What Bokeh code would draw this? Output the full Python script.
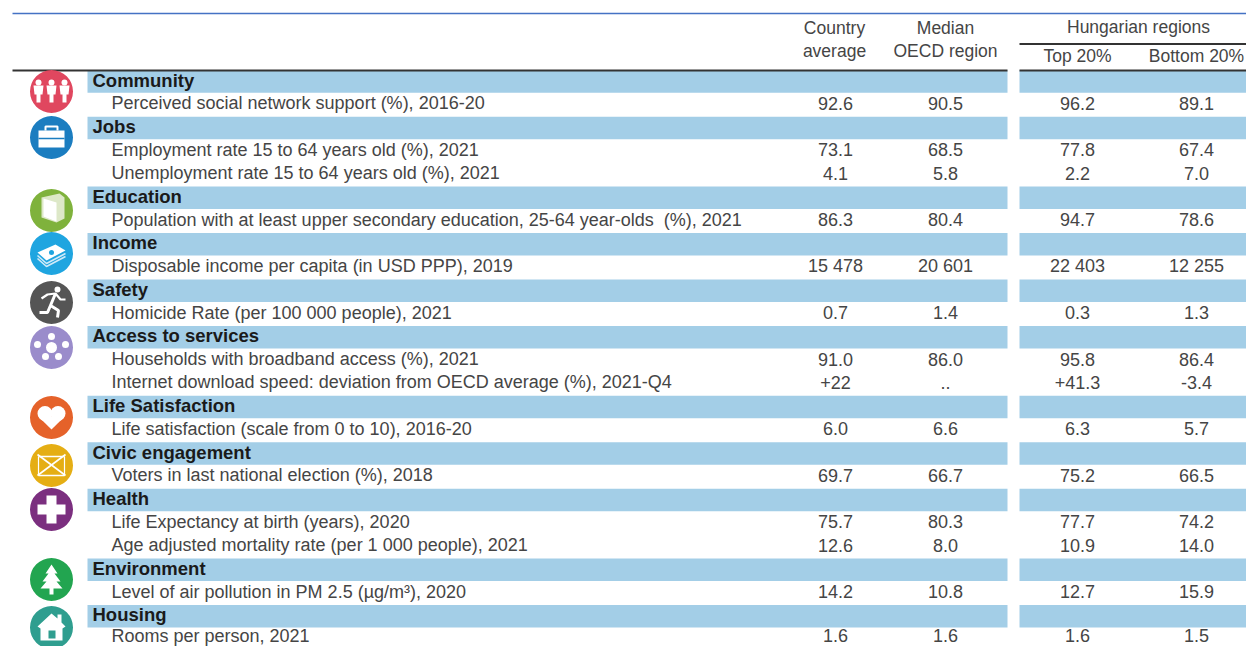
from bokeh.plotting import figure
from bokeh.models import Range1d
from bokeh.core.properties import value
from bokeh.embed import file_html
from bokeh.resources import INLINE

FONT = value("Liberation Sans")

row_kind = ["h","d","h","d","d","h","d","h","d","h","d","h","d","d","h","d","h","d","h","d","d","h","d","h","d"]
row_labels = [
    "Community", "Perceived social network support (%), 2016-20",
    "Jobs", "Employment rate 15 to 64 years old (%), 2021", "Unemployment rate 15 to 64 years old (%), 2021",
    "Education", "Population with at least upper secondary education, 25-64 year-olds\u00a0 (%), 2021",
    "Income", "Disposable income per capita (in USD PPP), 2019",
    "Safety", "Homicide Rate (per 100 000 people), 2021",
    "Access to services", "Households with broadband access (%), 2021",
    "Internet download speed: deviation from OECD average (%), 2021-Q4",
    "Life Satisfaction", "Life satisfaction (scale from 0 to 10), 2016-20",
    "Civic engagement", "Voters in last national election (%), 2018",
    "Health", "Life Expectancy at birth (years), 2020", "Age adjusted mortality rate (per 1 000 people), 2021",
    "Environment", "Level of air pollution in PM 2.5 (µg/m³), 2020",
    "Housing", "Rooms per person, 2021",
]
country_avg = ["","92.6","","73.1","4.1","","86.3","","15 478","","0.7","","91.0","+22","","6.0","","69.7","","75.7","12.6","","14.2","","1.6"]
median_oecd = ["","90.5","","68.5","5.8","","80.4","","20 601","","1.4","","86.0","..","","6.6","","66.7","","80.3","8.0","","10.8","","1.6"]
top_20 = ["","96.2","","77.8","2.2","","94.7","","22 403","","0.3","","95.8","+41.3","","6.3","","75.2","","77.7","10.9","","12.7","","1.6"]
bottom_20 = ["","89.1","","67.4","7.0","","78.6","","12 255","","1.3","","86.4","-3.4","","5.7","","66.5","","74.2","14.0","","15.9","","1.5"]

icon_colors = ["#E0475F","#1B7DC0","#7FB23C","#1FA5E0","#555555","#9A8CCB","#E5622A","#E5AE14","#7B2F7F","#22A550","#2F9E8F"]
icon_y = [91,137,210,253,302,347,417,465,509,579,627]

Y0, DY = 80.5, 23.25
LAST = len(row_kind) - 1
def ry(i): return Y0 + DY * i
def ty(i):
    # text rows; the last one is nudged up so that it stays inside the page
    return ry(i) - 1 - (2.5 if i == LAST else 0)

p = figure(width=1246, height=646, output_backend="svg", toolbar_location=None,
           x_range=Range1d(0,1246), y_range=Range1d(646,0), min_border=0,
           outline_line_color=None, background_fill_color="white",
           styles={"position":"absolute","left":"0","top":"0"})
p.xaxis.visible = False
p.yaxis.visible = False
p.grid.visible = False

BAND = "#A3CEE7"
hrows = [ry(i)+0.5 for i,k in enumerate(row_kind) if k=="h"]
for x0,x1 in [(87,1007),(1019,1246)]:
    p.quad(left=x0,right=x1,top=[y-11.2 for y in hrows],bottom=[y+11.2 for y in hrows],fill_color=BAND,line_color=None)

# rules
p.line([12,1246],[13,13],line_color="#4472C4",line_width=1.5)
p.line([12,1007],[70,70],line_color="#333333",line_width=2.2)
p.line([1019,1246],[70,70],line_color="#333333",line_width=2.2)
p.line([1019,1246],[43.5,43.5],line_color="#333333",line_width=2)

def txt(x,y,s,align="left",color="#454545",style="normal",size="18px"):
    p.text(x=x,y=y,text=s,text_align=align,text_baseline="middle",text_color=color,
           text_font=FONT,text_font_size=size,text_font_style=style)

for i,(k,l) in enumerate(zip(row_kind,row_labels)):
    if k=="h":
        txt([92],[ty(i)],[l],color="#1a1a1a",style="bold",size="18.5px")
    else:
        txt([111],[ty(i)],[l])

for x,col in [(835,country_avg),(945,median_oecd),(1077,top_20),(1196,bottom_20)]:
    xs=[x for v in col if v]; ys=[ty(i) for i,v in enumerate(col) if v]; ss=[v for v in col if v]
    txt(xs,ys,ss,align="center")

for x,y,s in [(834,27,"Country"),(834,50,"average"),(945,27,"Median"),(945,50,"OECD region"),
              (1138,26,"Hungarian regions"),(1077,55,"Top 20%"),(1196,55,"Bottom 20%")]:
    txt([x],[y],[s],align="center",size="17.5px")

# icon discs
CX = 51
p.scatter(x=[CX]*len(icon_y),y=icon_y,size=43,marker="circle",fill_color=icon_colors,line_color=None)

W="white"
def poly(cy,pts,color=W):
    p.patch([CX+a for a,b in pts],[cy+b for a,b in pts],fill_color=color,line_color=None)
def dot(cx,cy,s,color=W):
    p.scatter([cx],[cy],size=s,marker="circle",fill_color=color,line_color=None)
def seg(cy,pts,w=2,color=W):
    p.line([CX+a for a,b in pts],[cy+b for a,b in pts],line_color=color,line_width=w)

# community: three people
cy=icon_y[0]
for dx in (-13,0,13):
    dot(CX+dx,cy-9,6)
    poly(cy,[(dx-5,-6),(dx+5,-6),(dx+4,3),(dx+2,3),(dx+2,11),(dx-2,11),(dx-2,3),(dx-4,3)])
# jobs: briefcase
cy=icon_y[1]
poly(cy,[(-13,-7),(13,-7),(13,10),(-13,10)])
seg(cy,[(-6,-7),(-6,-11),(6,-11),(6,-7)],2)
seg(cy,[(-13,1),(13,1)],1.5,icon_colors[1])
# education: book
cy=icon_y[2]
poly(cy,[(-10,-13),(8,-17),(13,-13),(13,8),(5,12),(-10,7)],"#DDE8C8")
poly(cy,[(-8,-12),(5,-8),(5,11),(-8,6)],"#FFFFFF")
# income: banknotes
cy=icon_y[3]
poly(cy,[(-14,-1),(4,-9),(14,-3),(-5,7)])
dot(CX,cy-1,5,icon_colors[3])
seg(cy,[(-14,2),(-5,10),(14,0)],1.6,"#CFEAF8")
seg(cy,[(-14,5),(-5,13),(14,3)],1.6,"#CFEAF8")
# safety: runner
cy=icon_y[4]
dot(CX+6,cy-13,6)
seg(cy,[(4,-9),(-1,3),(7,8),(6,15)],3)
seg(cy,[(-10,-4),(-4,-8),(4,-9),(9,-3),(14,-3)],2.2)
seg(cy,[(-1,3),(-4,10),(-12,10)],3)
# services: network of dots
cy=icon_y[5]
dot(CX,cy,11)
for dx,dy in [(0,-11),(-14,-3),(14,-3),(-6,9),(7,9)]:
    dot(CX+dx,cy+dy,7)
# life: heart
cy=icon_y[6]
dot(CX-6.5,cy-4,15); dot(CX+6.5,cy-4,15)
poly(cy,[(-13.2,-1),(13.2,-1),(0,12)])
# civic: ballot box
cy=icon_y[7]
seg(cy,[(-13,-9),(13,-9)],1.6); seg(cy,[(-13,10),(13,10)],1.6)
seg(cy,[(-13,-9),(-13,10)],1.2); seg(cy,[(13,-9),(13,10)],1.2)
seg(cy,[(-14,10),(14,-11)],1.6)
seg(cy,[(-14,-11),(14,10)],1.6)
# health: cross
cy=icon_y[8]
poly(cy,[(-5,-14),(5,-14),(5,-5),(14,-5),(14,5),(5,5),(5,14),(-5,14),(-5,5),(-14,5),(-14,-5),(-5,-5)])
# environment: fir tree
cy=icon_y[9]
poly(cy,[(0,-15),(6,-6),(3,-6),(9,2),(5,2),(11,9),(2,9),(2,15),(-2,15),(-2,9),(-11,9),(-5,2),(-9,2),(-3,-6),(-6,-6)])
# housing: house
cy=icon_y[10]
poly(cy,[(0,-14),(6,-9),(6,-13),(10,-13),(10,-5),(14,-1),(11,1),(11,13),(-11,13),(-11,1),(-14,-1)])
poly(cy,[(-3,3),(4,3),(4,11),(-3,11)],icon_colors[10])

open("out.html","w").write(file_html(p,INLINE))
